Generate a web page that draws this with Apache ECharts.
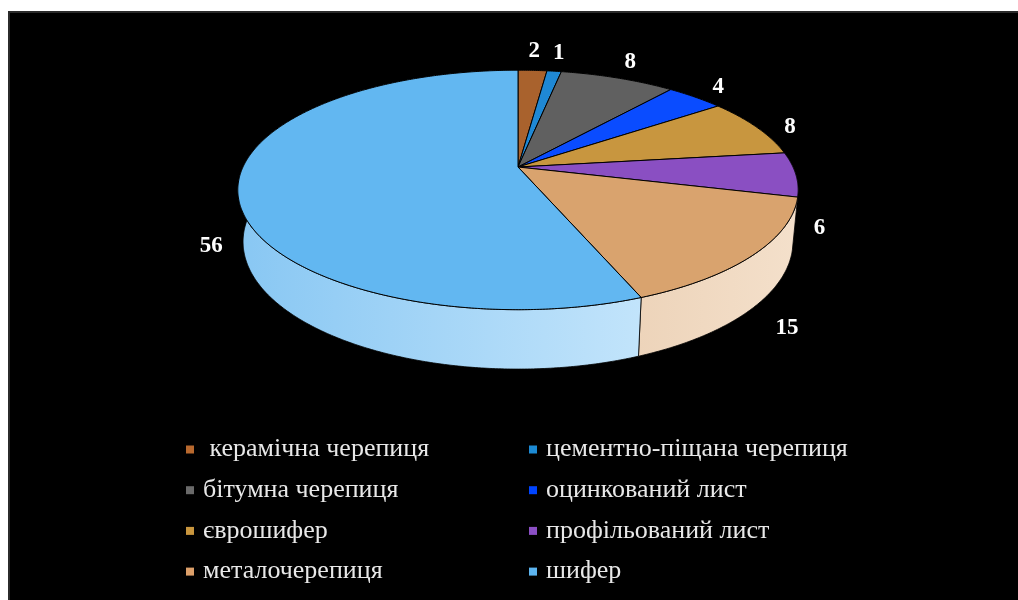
<!DOCTYPE html>
<html>
<head>
<meta charset="utf-8">
<script src="https://cdn.jsdelivr.net/npm/echarts@6/dist/echarts.min.js"></script>
<style>
html,body{margin:0;padding:0;background:#fff;}
#chart{position:absolute;left:0;top:0;width:1018px;height:600px;}
</style>
</head>
<body>
<div id="chart"></div>
<script>
// ---- data ----
const categories = [' керамічна черепиця', 'цементно-піщана черепиця', 'бітумна черепиця', 'оцинкований лист', 'єврошифер', 'профільований лист', 'металочерепиця', 'шифер'];
const values = [2, 1, 8, 4, 8, 6, 15, 56];
const legendLeft = [categories[0], categories[2], categories[4], categories[6]];
const legendRight = [categories[1], categories[3], categories[5], categories[7]];

// ---- styles ----
const topColors = ['#A9622D', '#1F88D4', '#606060', '#0A4CFF', '#C8963F', '#8A4FC2', '#D9A36E', '#62B7F1'];
const sideDark = ['#C89E80', '#7FB5E0', '#9A9A9A', '#7598FF', '#DCC090', '#B798D8', '#EDD4BA', '#88C7F3'];
const sideLight = ['#D6AE90', '#8FC3EA', '#ABABAB', '#85A6FF', '#E4CB9F', '#C5A7E1', '#F4E0CB', '#C2E4FB'];
const legendColors = ['#B8692E', '#1C8AD4', '#6A6A6A', '#0044FF', '#C9963E', '#8B4FC4', '#DDA06A', '#5DB5F0'];

// 3D pie projection parameters
const CX = 518, CY = 167, R = 275, H = 57;
const ELEV = 24.8 * Math.PI / 180, DIST = 4.74;
const total = values.reduce((a, b) => a + b, 0);
const starts = [];
values.reduce((acc, v, i) => { starts[i] = acc; return acc + v; }, 0);

function project(X, Z, yUp) {
  const se = Math.sin(ELEV), ce = Math.cos(ELEV);
  const depth = Z * ce + yUp * se;
  const s = DIST / (DIST - depth);
  return [CX + R * X * s, CY + R * (Z * se - yUp * ce) * s];
}
function arc(a1, a2, k, yUp) {
  const pts = [];
  const n = Math.max(2, Math.ceil((a2 - a1) / (Math.PI / 360)));
  for (let j = 0; j <= n; j++) {
    const t = a1 + (a2 - a1) * j / n;
    pts.push(project(k * Math.sin(t), -k * Math.cos(t), yUp));
  }
  return pts;
}

function makeRender(i) {
  return function (params, api) {
    const v = api.value(0);
    const a1 = starts[i] / total * 2 * Math.PI;
    const a2 = (starts[i] + v) / total * 2 * Math.PI;
    const h = H / R;
    const topArc = arc(a1, a2, 1, 0);
    const botArc = arc(a1, a2, 1, -h).reverse();
    const side = topArc.concat(botArc);
    const top = [project(0, 0, 0)].concat(topArc);
    const mid = (a1 + a2) / 2;
    const Zm = -Math.cos(mid);
    const t = Math.min(1, Math.max(0, (Zm + 0.35) / 0.4));
    const k = t < 1 ? 1.15 : 1.10 + 0.06 * Math.abs(Zm);
    const lp = project(k * Math.sin(mid), -k * Math.cos(mid), -h * t);
    const dy = t < 1 ? Math.min(5, -7 + (Zm + 1) * 20) : 2;
    return {
      type: 'group',
      children: [
        { type: 'polygon', z2: 1, shape: { points: side },
          style: { fill: new echarts.graphic.LinearGradient(0, 0, 1, 0, [
                     { offset: 0, color: sideDark[i] }, { offset: 1, color: sideLight[i] }]),
                   stroke: '#000', lineWidth: 0.8 } },
        { type: 'polygon', z2: 10, shape: { points: top },
          style: { fill: topColors[i], stroke: '#000', lineWidth: 1 } },
        { type: 'text', z2: 20,
          style: { text: String(v), x: lp[0], y: lp[1] + dy, fill: '#ffffff',
                   fontFamily: 'Liberation Serif', fontWeight: 'bold', fontSize: 23,
                   align: 'center', verticalAlign: 'middle',
                   textAlign: 'center', textVerticalAlign: 'middle' } }
      ]
    };
  };
}

const chart = echarts.init(document.getElementById('chart'), null, { renderer: 'canvas' });
const legendText = { color: '#e8e8e8', fontSize: 26, lineHeight: 26, padding: [0, 0, 0, 4],
  fontFamily: 'Liberation Serif' };
chart.setOption({
  backgroundColor: '#ffffff',
  animation: false,
  graphic: [
    { type: 'rect', shape: { x: 9, y: 12, width: 1020, height: 600 },
      style: { fill: '#000000', stroke: '#2b2b2b', lineWidth: 2 }, z: -10 }
  ],
  legend: [
    { orient: 'vertical', left: 186, top: 436.5, padding: 0, itemWidth: 8, itemHeight: 8,
      itemGap: 14.7, icon: 'rect', data: legendLeft, textStyle: legendText, selectedMode: false },
    { orient: 'vertical', left: 529, top: 436.5, padding: 0, itemWidth: 8, itemHeight: 8,
      itemGap: 14.7, icon: 'rect', data: legendRight, textStyle: legendText, selectedMode: false }
  ],
  series: categories.map((name, i) => ({
    type: 'custom',
    name: name,
    coordinateSystem: 'none',
    color: legendColors[i],
    itemStyle: { color: legendColors[i] },
    silent: true,
    renderItem: makeRender(i),
    data: [values[i]]
  }))
});
</script>
</body>
</html>
